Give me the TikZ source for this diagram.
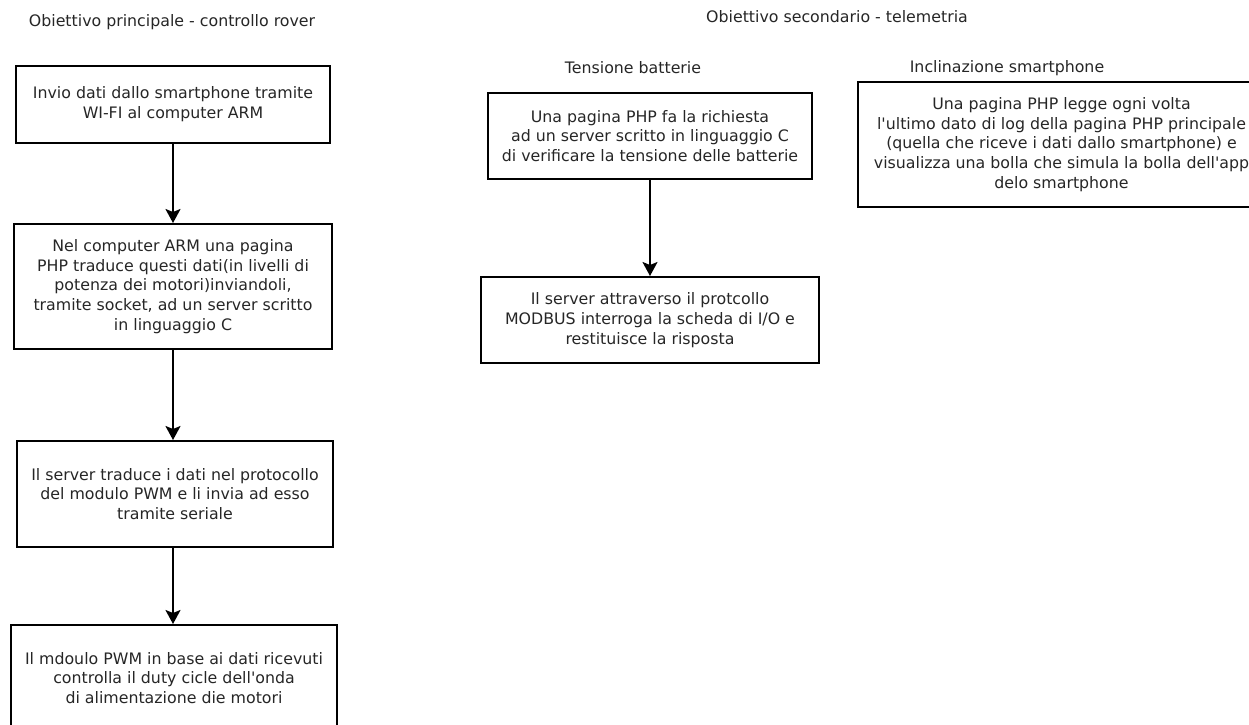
\documentclass[tikz,border=0pt]{standalone}
\usepackage{fontspec}
\setmainfont{DejaVu Sans}
\usetikzlibrary{arrows.meta}
\newcommand{\apo}{\textquotesingle}
\begin{document}
\begin{tikzpicture}[x=1pt,y=-1pt,
  every node/.style={font=\fontsize{15.8}{19.8}\selectfont, text=black!85},
  box/.style={draw=black, line width=2pt, align=center, inner sep=0pt, rectangle},
  lbl/.style={inner sep=0pt},
  arr/.style={line width=2pt, -{Stealth[length=14pt,width=15pt,inset=3pt]}}]
\useasboundingbox (0,0) rectangle (1249,724);
\node[lbl] (t1) at (172,22) {Obiettivo principale - controllo rover};
\node[lbl] (t2) at (837,17) {Obiettivo secondario - telemetria};
\node[lbl] (t3) at (633,68) {Tensione batterie};
\node[lbl] (t4) at (1007,68) {Inclinazione smartphone};

\node[box, minimum width=314pt, minimum height=77pt] (b1) at (173,104.5)
  {Invio dati dallo smartphone tramite\\WI-FI al computer ARM};
\node[box, minimum width=318pt, minimum height=125pt] (b2) at (173,286.5)
  {Nel computer ARM una pagina\\PHP traduce questi dati(in livelli di\\potenza dei motori)inviandoli,\\tramite socket, ad un server scritto\\in linguaggio C};
\node[box, minimum width=316pt, minimum height=106pt] (b3) at (175,494)
  {Il server traduce i dati nel protocollo\\del modulo PWM e li invia ad esso\\tramite seriale};
\node[box, minimum width=326pt, minimum height=106pt] (b4) at (174,678)
  {Il mdoulo PWM in base ai dati ricevuti\\controlla il duty cicle dell\apo onda\\di alimentazione die motori};

\node[box, minimum width=324pt, minimum height=86pt] (b5) at (650,136)
  {Una pagina PHP fa la richiesta\\ad un server scritto in linguaggio C\\di verificare la tensione delle batterie};
\node[box, minimum width=338pt, minimum height=86pt] (b6) at (650,320)
  {Il server attraverso il protcollo\\MODBUS interroga la scheda di I/O e\\restituisce la risposta};

\node[box, minimum width=407pt, minimum height=125pt] (b7) at (1061.5,144.5)
  {Una pagina PHP legge ogni volta\\l\apo ultimo dato di log della pagina PHP principale\\(quella che riceve i dati dallo smartphone) e\\visualizza una bolla che simula la bolla dell\apo app\\delo smartphone};

\draw[arr] (b1.south) -- (b2.north);
\draw[arr] (b2.south) -- (b2.south |- b3.north);
\draw[arr] (b2.south |- b3.south) -- (b2.south |- b4.north);
\draw[arr] (b5.south) -- (b5.south |- b6.north);
\end{tikzpicture}
\end{document}
